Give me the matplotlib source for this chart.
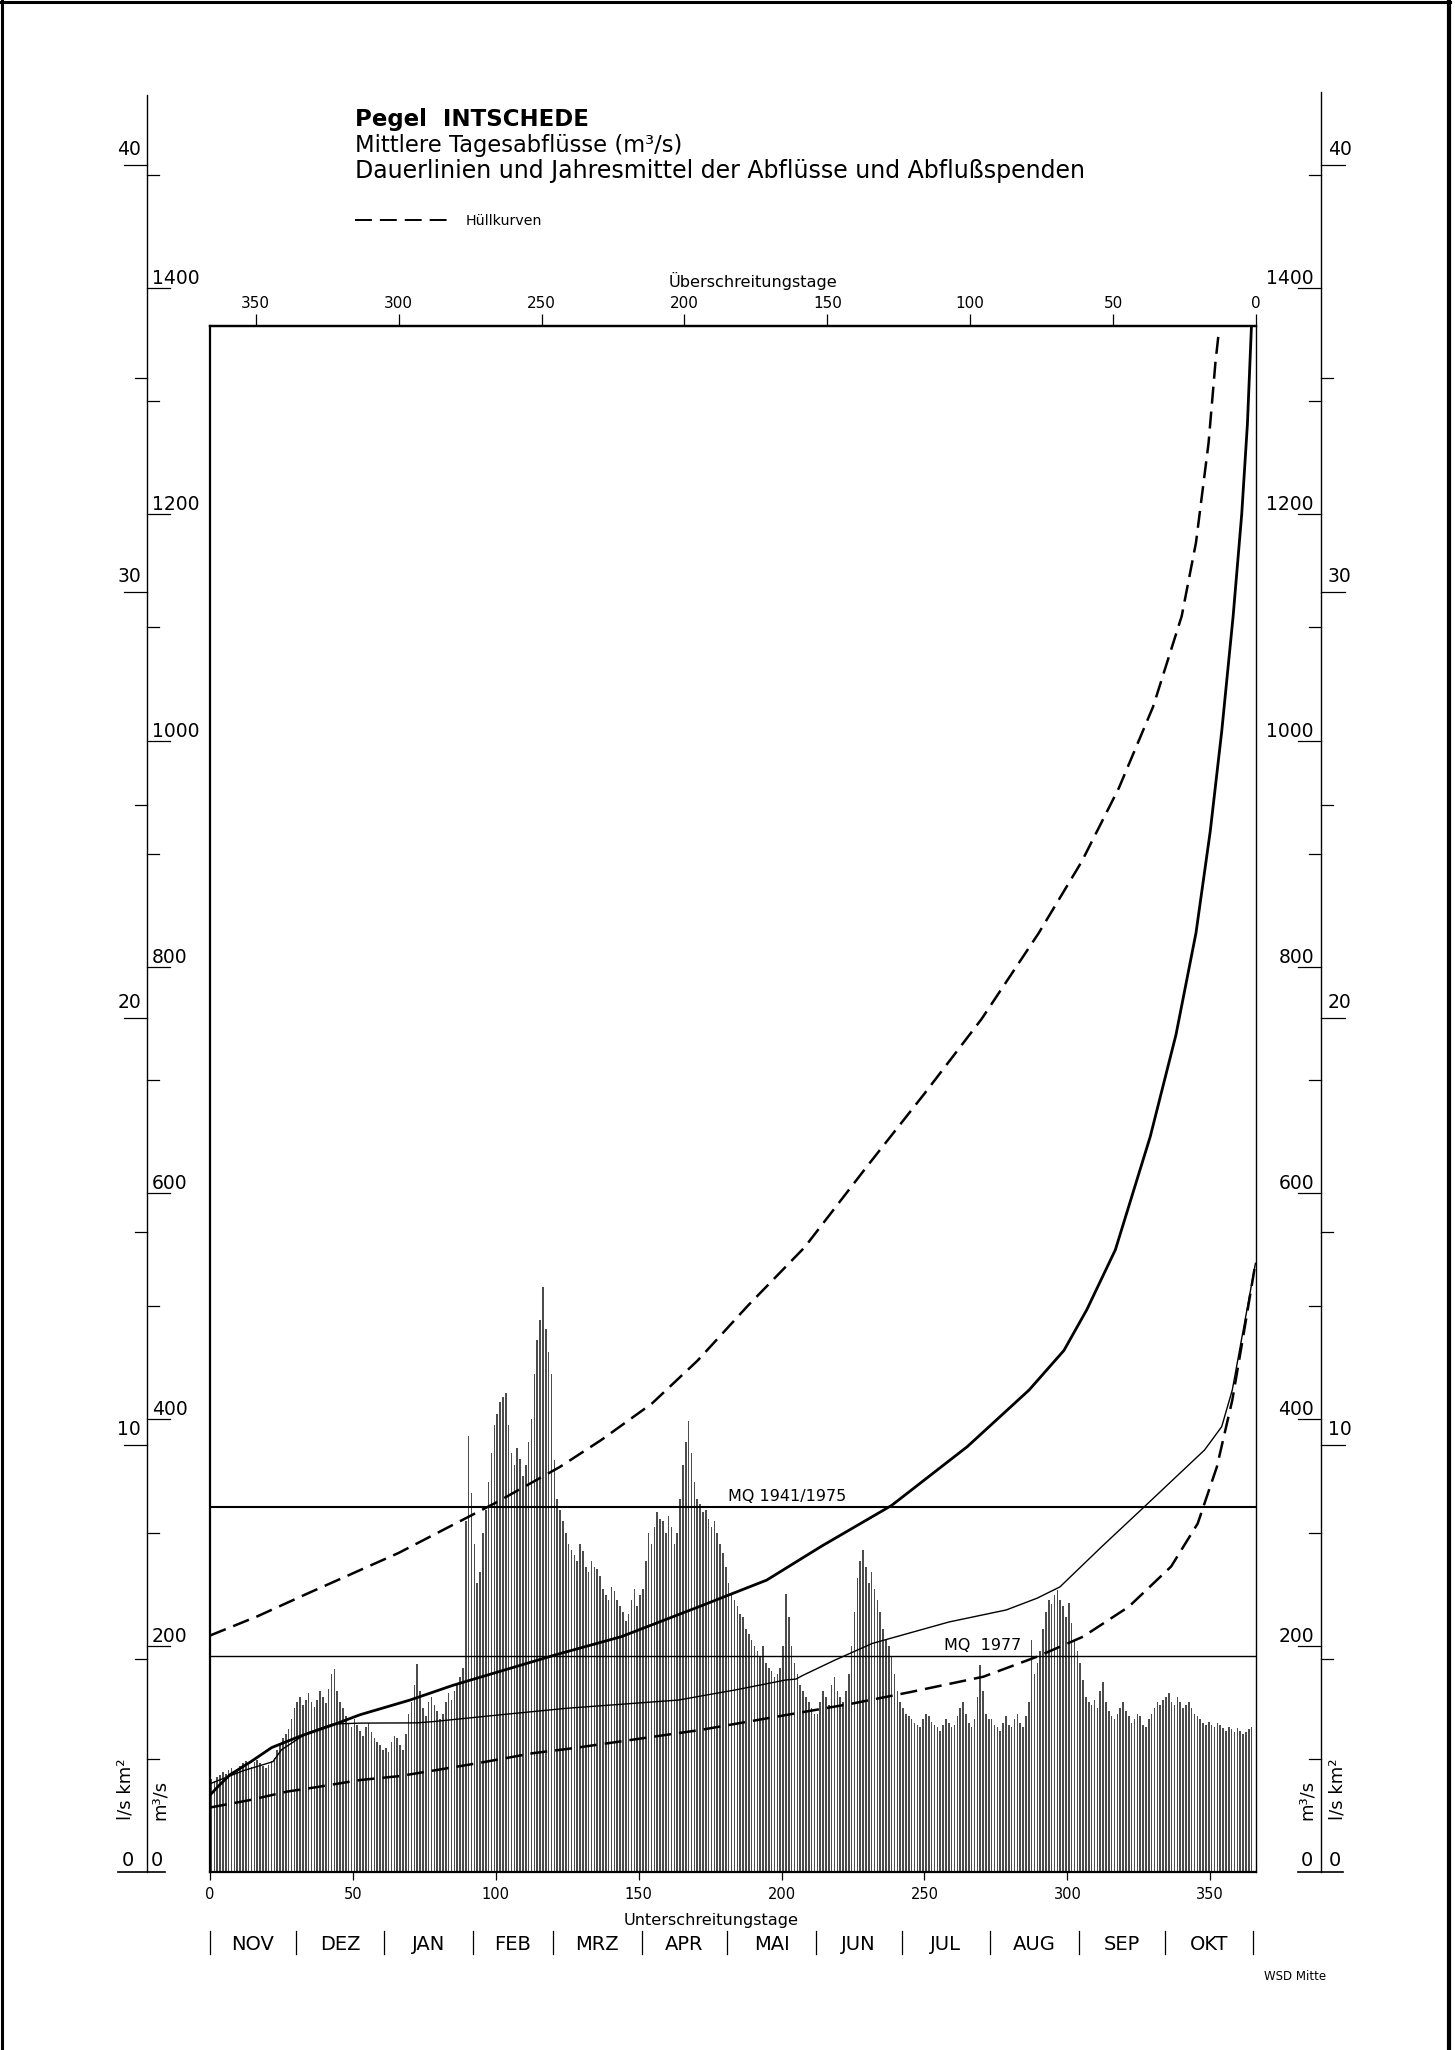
import matplotlib
matplotlib.use('Agg')
import matplotlib.pyplot as plt
import matplotlib.transforms as mtransforms
from matplotlib.lines import Line2D
import numpy as np

plt.rcParams['font.family'] = ['DejaVu Sans']

# ------------------------------------------------------------------ data
AREA_KM2 = 37720  # catchment area, converts m3/s <-> l/(s km2)

months = ['NOV', 'DEZ', 'JAN', 'FEB', 'MRZ', 'APR', 'MAI', 'JUN', 'JUL', 'AUG', 'SEP', 'OKT']
month_days = [30, 31, 31, 28, 31, 30, 31, 30, 31, 31, 30, 31]

# daily mean discharge 1977 (m3/s), one list per month
q_nov = [82, 80, 84, 86, 88, 87, 90, 92, 89, 91, 94, 96, 98, 95, 93, 97, 99, 96, 94, 92,
         95, 98, 101, 108, 114, 118, 122, 126, 135, 145]
q_dez = [150, 155, 148, 152, 158, 150, 146, 152, 160, 155, 149, 162, 175, 179, 160, 150,
         145, 138, 132, 128, 135, 130, 125, 120, 128, 132, 124, 118, 115, 112, 108]
q_jan = [110, 106, 115, 120, 118, 112, 108, 122, 140, 150, 165, 184, 160, 145, 138, 150,
         155, 148, 142, 135, 140, 150, 158, 152, 160, 165, 172, 180, 310, 385, 335]
q_feb = [290, 255, 265, 300, 320, 345, 370, 395, 405, 415, 420, 423, 395, 370, 360, 375,
         365, 350, 360, 380, 400, 440, 470, 488, 517, 480, 460, 440]
q_mrz = [364, 330, 320, 310, 300, 290, 285, 280, 275, 290, 284, 270, 265, 275, 270, 268,
         262, 250, 245, 240, 252, 248, 240, 235, 230, 222, 228, 240, 250, 235, 245]
q_apr = [250, 275, 300, 290, 305, 318, 312, 310, 300, 315, 305, 290, 300, 330, 360, 380,
         399, 370, 345, 330, 325, 318, 320, 312, 305, 310, 300, 290, 282, 270]
q_mai = [255, 245, 240, 235, 228, 225, 215, 210, 205, 200, 195, 190, 200, 185, 180, 178,
         172, 175, 180, 200, 246, 225, 200, 185, 175, 165, 160, 155, 150, 145, 140]
q_jun = [140, 150, 160, 155, 148, 165, 172, 160, 155, 150, 160, 175, 200, 230, 260, 275,
         285, 270, 255, 265, 250, 240, 230, 215, 205, 200, 190, 175, 160, 150]
q_jul = [145, 140, 138, 135, 132, 130, 128, 135, 140, 138, 133, 130, 128, 125, 130, 135,
         132, 128, 130, 138, 145, 150, 140, 132, 128, 135, 155, 183, 160, 140, 135]
q_aug = [135, 130, 128, 125, 132, 138, 130, 128, 135, 140, 132, 128, 138, 150, 205, 175,
         185, 195, 215, 230, 240, 237, 245, 249, 240, 235, 225, 238, 220, 205, 195]
q_sep = [185, 170, 155, 150, 148, 152, 145, 160, 168, 150, 142, 138, 135, 140, 145, 150,
         142, 138, 132, 135, 140, 138, 130, 128, 135, 140, 145, 150, 148, 152]
q_okt = [155, 158, 150, 148, 155, 150, 145, 148, 150, 145, 140, 138, 135, 132, 130, 133,
         130, 128, 132, 130, 127, 125, 128, 126, 124, 127, 125, 122, 124, 126, 128]

# duration curves (Unterschreitungstage -> m3/s)
mean_days = [0, 3, 7, 14, 21.6, 31.5, 43, 52.5, 70, 85, 121, 143.9, 170.6, 194.8, 214,
             238.5, 265, 286.6, 298.8, 306.8, 316.8, 329, 338, 345, 350, 354, 358, 361,
             363, 364.4]
mean_q = [68, 76, 86, 97, 110, 120, 130, 139, 152, 165, 192, 208, 234, 258, 288,
          324, 376, 426, 461, 497, 550, 650, 740, 830, 920, 1008, 1110, 1200,
          1280, 1366]

y1977_days = [0, 11.6, 22, 25, 33.8, 43, 52.7, 72.3, 78, 101, 124.8, 164, 172.8, 184,
              201.4, 205, 207.6, 218.4, 231.7, 258.6, 278.6, 289.4, 297.4, 312, 327,
              348, 354, 357.7, 365.8]
y1977_q = [78, 89.5, 97.5, 108, 122.6, 130.8, 131.6, 131.8, 132.9, 138.8, 144.7, 152,
           156, 161, 169.7, 170.5, 174, 187, 202, 221, 231.6, 242, 252, 287.5, 323,
           373, 393.6, 426, 538]

upper_days = [0, 16.6, 34, 50, 66, 83.6, 99.7, 122.4, 137, 154.6, 170.6, 188, 208, 230,
              250, 270, 290, 305, 318, 330, 340, 345, 349.4, 351.8, 352.8]
upper_q = [209, 226, 246, 264, 282, 305, 326, 358, 382, 414, 452, 500, 552, 624,
           688, 754, 830, 893, 958, 1030, 1110, 1175, 1263, 1334, 1357]

lower_days = [0, 14, 26.8, 37, 52.5, 66.5, 93.3, 113, 127, 171.5, 198.3, 225, 245,
              270.6, 289.4, 305.5, 321.5, 336.3, 345.6, 352.3, 357.7, 361.7, 365.8]
lower_q = [57, 63.6, 71, 74.9, 81.3, 84.8, 96, 105, 109.4, 125.5, 137.3, 149, 159,
           172.6, 190.3, 208, 234.5, 270, 308, 358, 417, 476, 538]

MQ_LONG = 323     # MQ 1941/1975
MQ_1977 = 191     # MQ 1977

bottom_ticks = [0, 50, 100, 150, 200, 250, 300, 350]
top_ticks = [0, 50, 100, 150, 200, 250, 300, 350]
m3s_major = [200, 400, 600, 800, 1000, 1200, 1400]
m3s_minor = [100, 300, 500, 700, 900, 1100, 1300, 1500]
ls_major = [10, 20, 30, 40]
ls_minor = [5, 15, 25, 35]

# ------------------------------------------------------------------ layout
W, H, DPI = 1455, 2050, 100
AX_L, AX_R, AX_T, AX_B = 210, 1256, 326, 1872
PXQ = 1.1314           # pixels per m3/s
XMAX = 366
QTOP = (AX_B - AX_T) / PXQ


def fx(px):
    return px / W


def fy(py):
    return 1 - py / H


def oq(py):          # pixel row -> m3/s in the overlay axes
    return (AX_B - py) / PXQ


def ls2q(v):
    return v * AREA_KM2 / 1000.0


fig = plt.figure(figsize=(W / DPI, H / DPI), dpi=DPI)

ov = fig.add_axes([0, 0, 1, 1])
ov.set_xlim(0, W)
ov.set_ylim(oq(H), oq(0))
ov.axis('off')
ov.set_zorder(1)

ax = fig.add_axes([fx(AX_L), fy(AX_B), (AX_R - AX_L) / W, (AX_B - AX_T) / H])
ax.set_zorder(2)
ax.patch.set_visible(False)
ax.set_xlim(0, XMAX)
ax.set_ylim(0, QTOP)

# ------------------------------------------------------------------ bars
daily_q = q_nov + q_dez + q_jan + q_feb + q_mrz + q_apr + q_mai + q_jun + q_jul + q_aug + q_sep + q_okt
days = np.arange(len(daily_q)) + 0.5
ax.bar(days, daily_q, width=0.55, color='#4c4c4c', linewidth=0, zorder=1)

# ------------------------------------------------------------------ curves
ax.axhline(MQ_LONG, color='k', lw=1.5, zorder=4)
ax.axhline(MQ_1977, color='k', lw=1.0, zorder=4)
off = mtransforms.offset_copy(ax.transData, fig=fig, x=0, y=3, units='dots')
ax.text(181.3, MQ_LONG, 'MQ 1941/1975', fontsize=11.5, va='bottom', ha='left', transform=off, zorder=5)
ax.text(257.0, MQ_1977, 'MQ  1977', fontsize=11.5, va='bottom', ha='left', transform=off, zorder=5)

ax.plot(mean_days, mean_q, color='k', lw=2.0, zorder=5, solid_capstyle='butt')
ax.plot(y1977_days, y1977_q, color='k', lw=1.0, zorder=5)
ax.plot(upper_days, upper_q, color='k', lw=1.8, ls=(0, (6.8, 3.2)), zorder=5)
ax.plot(lower_days, lower_q, color='k', lw=1.8, ls=(0, (6.8, 3.2)), zorder=5)

# ------------------------------------------------------------------ frame & x axes
for side, lw in [('left', 1.6), ('right', 1.0), ('top', 1.6), ('bottom', 1.6)]:
    ax.spines[side].set_linewidth(lw)
ax.set_yticks([])
ax.set_xticks(bottom_ticks)
ax.set_xticklabels([str(t) for t in bottom_ticks])
ax.tick_params(axis='x', direction='out', length=5.8, width=0.9, labelsize=10.5, pad=5)

top = ax.secondary_xaxis('top', functions=(lambda x: XMAX - x, lambda u: XMAX - u))
top.set_xticks(top_ticks)
top.set_xticklabels([str(t) for t in top_ticks])
top.tick_params(direction='out', length=8.6, width=0.9, labelsize=11, pad=2)
top.spines['top'].set_linewidth(1.6)

fig.text(fx(753), fy(287), 'Überschreitungstage', ha='center', va='baseline', fontsize=11.6)
fig.text(fx(711), fy(1925), 'Unterschreitungstage', ha='center', va='baseline', fontsize=11.6)

# month row
bl = mtransforms.blended_transform_factory(ax.transData, fig.transFigure)
edges = np.concatenate([[0], np.cumsum(month_days)])
for e in edges:
    ax.plot([e, e], [fy(1931), fy(1954)], transform=bl, color='k', lw=0.9, clip_on=False)
for i, m in enumerate(months):
    ax.text((edges[i] + edges[i + 1]) / 2, fy(1950), m, transform=bl, ha='center',
            va='baseline', fontsize=14, clip_on=False)

# ------------------------------------------------------------------ outer scales
LX, RX = 147, 1321
ov.plot([LX, LX], [0, oq(95)], color='k', lw=1.0)
ov.plot([RX, RX], [0, oq(92)], color='k', lw=1.0)
lab_fs = 13.5
dy = 4 / PXQ
dyl = 10 / PXQ
for q in m3s_major:
    ov.plot([LX, LX + 23], [q, q], color='k', lw=0.9)
    ov.text(LX + 5, q + dy, str(q), ha='left', va='baseline', fontsize=lab_fs)
    ov.plot([RX - 23, RX], [q, q], color='k', lw=0.9)
    ov.text(RX - 7, q + dy, str(q), ha='right', va='baseline', fontsize=lab_fs)
for q in m3s_minor:
    ov.plot([LX, LX + 12], [q, q], color='k', lw=0.9)
    ov.plot([RX - 12, RX], [q, q], color='k', lw=0.9)
for v in ls_major:
    q = ls2q(v)
    ov.plot([LX - 23, LX], [q, q], color='k', lw=0.9)
    ov.text(LX - 6, q + dyl, str(v), ha='right', va='baseline', fontsize=lab_fs)
    ov.plot([RX, RX + 24], [q, q], color='k', lw=0.9)
    ov.text(RX + 7, q + dyl, str(v), ha='left', va='baseline', fontsize=lab_fs)
for v in ls_minor:
    q = ls2q(v)
    ov.plot([LX - 12, LX], [q, q], color='k', lw=0.9)
    ov.plot([RX, RX + 12], [q, q], color='k', lw=0.9)

# zero lines and labels
ov.plot([118, 165], [0, 0], color='k', lw=1.2)
ov.plot([1298, 1343], [0, 0], color='k', lw=1.2)
for xx in (128, 157, 1307, 1335):
    ov.text(xx, oq(1866), '0', ha='center', va='baseline', fontsize=14)

# unit labels (rotated)
for xx, s in ((126, 'l/s km²'), (160, 'm³/s'), (1307, 'm³/s'), (1337, 'l/s km²')):
    ov.text(xx, oq(1820), s, rotation=90, rotation_mode='anchor', ha='left',
            va='center', fontsize=13)

# ------------------------------------------------------------------ titles
fig.text(fx(355), fy(126), 'Pegel  INTSCHEDE', fontsize=16.5, fontweight='bold',
         ha='left', va='baseline')
fig.text(fx(355), fy(152), 'Mittlere Tagesabflüsse (m³/s)', fontsize=16.3,
         ha='left', va='baseline')
fig.text(fx(355), fy(178), 'Dauerlinien und Jahresmittel der Abflüsse und Abflußspenden',
         fontsize=17.0, ha='left', va='baseline')
fig.add_artist(Line2D([fx(355), fx(447)], [fy(220), fy(220)], transform=fig.transFigure,
                      color='k', lw=1.4, ls=(0, (8.7, 4.1))))
fig.text(fx(466), fy(225), 'Hüllkurven', fontsize=10.2, ha='left', va='baseline')
fig.text(fx(1295), fy(1980), 'WSD Mitte', fontsize=8.5, ha='center', va='baseline')

# page border
for xs, ys, lw in (([2, 2], [0, H], 2.2), ([0, 1450], [2, 2], 2.2), ([1449, 1449], [0, H], 3.0)):
    fig.add_artist(Line2D([fx(x) for x in xs], [fy(y) for y in ys],
                          transform=fig.transFigure, color='k', lw=lw))

fig.savefig('out.png', dpi=DPI)
